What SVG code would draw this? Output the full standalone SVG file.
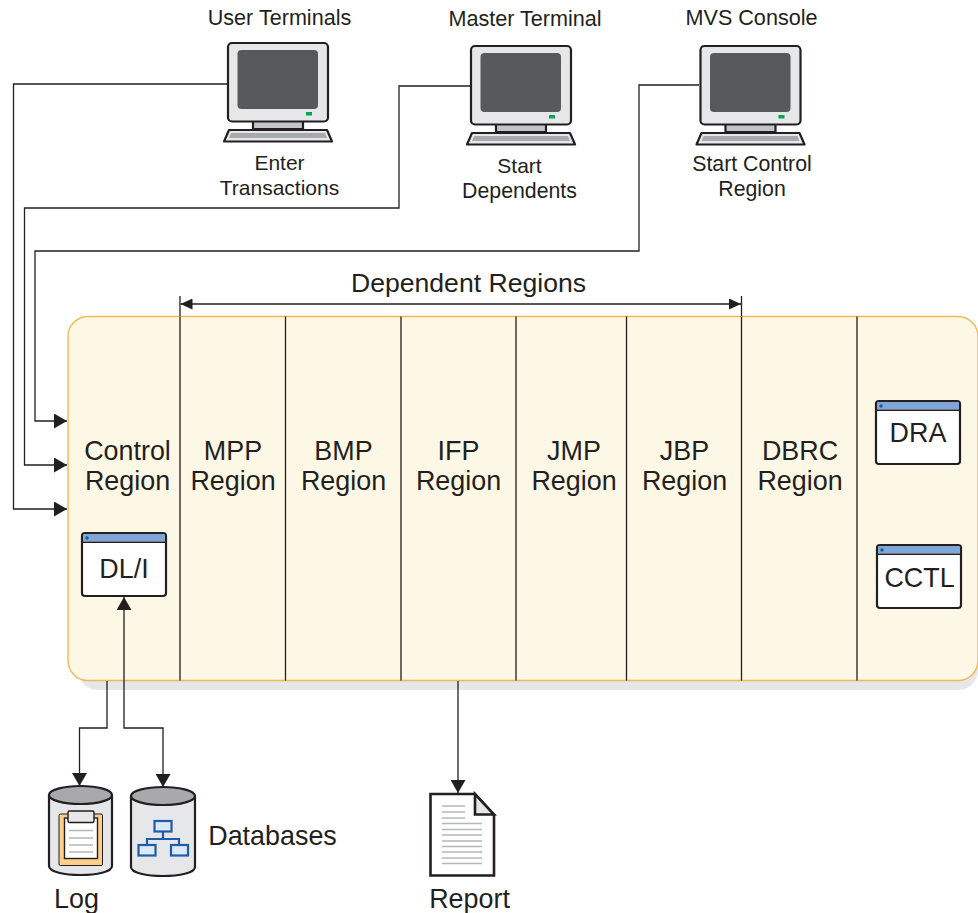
<svg xmlns="http://www.w3.org/2000/svg" xmlns:xlink="http://www.w3.org/1999/xlink" width="978" height="913" viewBox="0 0 978 913">
<style>
text{font-family:"Liberation Sans",Arial,sans-serif;fill:#231f20;text-anchor:middle}
.s{font-size:21px}
.s2{font-size:21.300px}
.h{font-size:21.600px}
.m{font-size:26.900px}
.dr{font-size:26.600px}
.c{fill:none;stroke:#231f20;stroke-width:1.3}
.ol{stroke:#231f20;stroke-width:2.200;stroke-linejoin:round}
.l{stroke:#b5b6b8;stroke-width:1.6;fill:none}
</style>
<defs>
<marker id="a" markerUnits="userSpaceOnUse" markerWidth="14" markerHeight="15" refX="13" refY="7.500" orient="auto-start-reverse" viewBox="0 0 14 15"><path d="M0 0L13 7.500L0 15Z" fill="#231f20"/></marker>
<marker id="b" markerUnits="userSpaceOnUse" markerWidth="13" markerHeight="11" refX="12" refY="5.500" orient="auto-start-reverse" viewBox="0 0 13 11"><path d="M0 0L12 5.500L0 11Z" fill="#231f20"/></marker>
<g id="term">
<path class="ol" d="M253 121H303V129H253Z" fill="#c4c5c7"/>
<path class="ol" d="M229 130H327L332 141.500H224Z" fill="#e6e7e8"/>
<path d="M231 133H325L327 138H229Z" fill="#a7a9ac"/>
<rect class="ol" x="228" y="43" width="100" height="78.500" rx="4" fill="#e6e7e8"/>
<rect x="237.500" y="50" width="80.500" height="59" rx="4" fill="#58595b"/>
<rect x="306" y="112" width="6" height="3.500" fill="#00a651"/>
</g>
<g id="win">
<rect class="ol" x="0" y="0" width="84" height="63" rx="3" fill="#fff"/>
<path d="M1 8.500V3Q1 1 3 1H81Q83 1 83 3V8.500Z" fill="#7fa6d6"/>
<path d="M0 9.300H84" stroke="#231f20" stroke-width="1.600"/>
<circle cx="5" cy="5" r="1.700" fill="#0f5cb0"/>
</g>
</defs>

<g id="main-panel">
<rect x="78" y="326" width="900" height="364" rx="20" fill="#e6e7e8"/>
<rect x="68" y="316.500" width="910" height="364" rx="20" fill="#fdf8e6" stroke="#f2b851" stroke-width="1.400"/>
<path d="M180 316.500V680.500M285.500 316.500V680.500M401 316.500V680.500M516 316.500V680.500M626.500 316.500V680.500M741.500 316.500V680.500M857 316.500V680.500" stroke="#231f20" stroke-width="1.300" fill="none"/>
</g>

<g id="connectors">
<path class="c" d="M227 84H13.500V509H67" marker-end="url(#a)"/>
<path class="c" d="M470 86H399V208H24.500V465H67" marker-end="url(#a)"/>
<path class="c" d="M699 85H639V251H35V421H67" marker-end="url(#a)"/>
<path class="c" d="M180.500 304H741" marker-start="url(#b)" marker-end="url(#b)"/>
<path class="c" d="M180 296V316M741.500 296V316"/>
<path class="c" d="M107 681V728H79.500V786" marker-end="url(#a)"/>
<path class="c" d="M163 787V728H124V597" marker-start="url(#a)" marker-end="url(#a)"/>
<path class="c" d="M458 681V793" marker-end="url(#a)"/>
</g>

<g id="user-terminals">
<text class="h" x="279.500" y="25">User Terminals</text>
<use href="#term" xlink:href="#term"/>
<text class="s" x="279.500" y="170">Enter</text>
<text class="s" x="279.500" y="195">Transactions</text>
</g>
<g id="master-terminal">
<text class="h" x="525" y="26">Master Terminal</text>
<use href="#term" xlink:href="#term" transform="translate(243 3)"/>
<text class="s" x="519.500" y="173">Start</text>
<text class="s2" x="519.500" y="198">Dependents</text>
</g>
<g id="mvs-console">
<text class="h" x="751.500" y="25">MVS Console</text>
<use href="#term" xlink:href="#term" transform="translate(472.500 3)"/>
<text class="s2" x="752" y="171">Start Control</text>
<text class="s2" x="752" y="196">Region</text>
</g>

<g id="dependent-regions-label"><text class="dr" x="468.500" y="292">Dependent Regions</text></g>

<g id="control-region"><text class="m" x="127.500" y="459.500">Control</text><text class="m" x="127.500" y="489.500">Region</text></g>
<g id="mpp-region"><text class="m" x="233" y="459.500">MPP</text><text class="m" x="233" y="489.500">Region</text></g>
<g id="bmp-region"><text class="m" x="343.500" y="459.500">BMP</text><text class="m" x="343.500" y="489.500">Region</text></g>
<g id="ifp-region"><text class="m" x="458.500" y="459.500">IFP</text><text class="m" x="458.500" y="489.500">Region</text></g>
<g id="jmp-region"><text class="m" x="574" y="459.500">JMP</text><text class="m" x="574" y="489.500">Region</text></g>
<g id="jbp-region"><text class="m" x="684.500" y="459.500">JBP</text><text class="m" x="684.500" y="489.500">Region</text></g>
<g id="dbrc-region"><text class="m" x="800" y="459.500">DBRC</text><text class="m" x="800" y="489.500">Region</text></g>

<g id="dli"><use href="#win" xlink:href="#win" transform="translate(82 533)"/><text class="m" x="124" y="578">DL/I</text></g>
<g id="dra"><use href="#win" xlink:href="#win" transform="translate(876 401)"/><text class="m" x="918" y="442">DRA</text></g>
<g id="cctl"><use href="#win" xlink:href="#win" transform="translate(877 545)"/><text class="m" x="919.500" y="586.500">CCTL</text></g>

<g id="log">
<path class="ol" d="M49 795V866C49 878 112 878 112 866V795Z" fill="#e6e7e8"/>
<ellipse class="ol" cx="80.500" cy="795" rx="31.500" ry="9" fill="#a7a9ac"/>
<rect x="59" y="814" width="43.500" height="51.500" rx="1.500" fill="#fcd088" stroke="#231f20" stroke-width="1"/>
<rect x="64.500" y="818" width="33" height="40.500" fill="#fff" stroke="#231f20" stroke-width="1.400"/>
<rect x="68" y="811" width="26" height="11.500" rx="1.500" fill="#e6e7e8" stroke="#231f20" stroke-width="1.400"/>
<path class="l" d="M69 830.500H93M69 838H93M69 845H93M69 852H93"/>
<text class="m" x="76.500" y="908">Log</text>
</g>
<g id="databases">
<path class="ol" d="M131 796V867C131 879 195 879 195 867V796Z" fill="#e6e7e8"/>
<ellipse class="ol" cx="163" cy="796" rx="32" ry="9" fill="#a7a9ac"/>
<g fill="#dbe8f6" stroke="#1f5ba8" stroke-width="2.200">
<rect x="154.500" y="821" width="17" height="10.500"/>
<rect x="138.500" y="845" width="17" height="10.500"/>
<rect x="171" y="845" width="17" height="10.500"/>
<path fill="none" d="M163 831.500V839M147 845V839H179V845"/>
</g>
<text class="m" x="272.500" y="845">Databases</text>
</g>
<g id="report">
<path d="M430.500 794H475L494 815V875.500H430.500Z" fill="#fff" stroke="#231f20" stroke-width="2.600" stroke-linejoin="miter"/>
<path d="M475 794V814.500H494Z" fill="#e6e7e8" stroke="#231f20" stroke-width="2.600"/>
<path class="l" d="M442 806H465M442 812H465M442 818H465M442 823.500H482M442 829.500H482M442 835H482M442 841H482M442 846.500H482M442 852H482M442 858H482M442 863.500H482"/>
<text class="m" x="469.500" y="908">Report</text>
</g>
</svg>
